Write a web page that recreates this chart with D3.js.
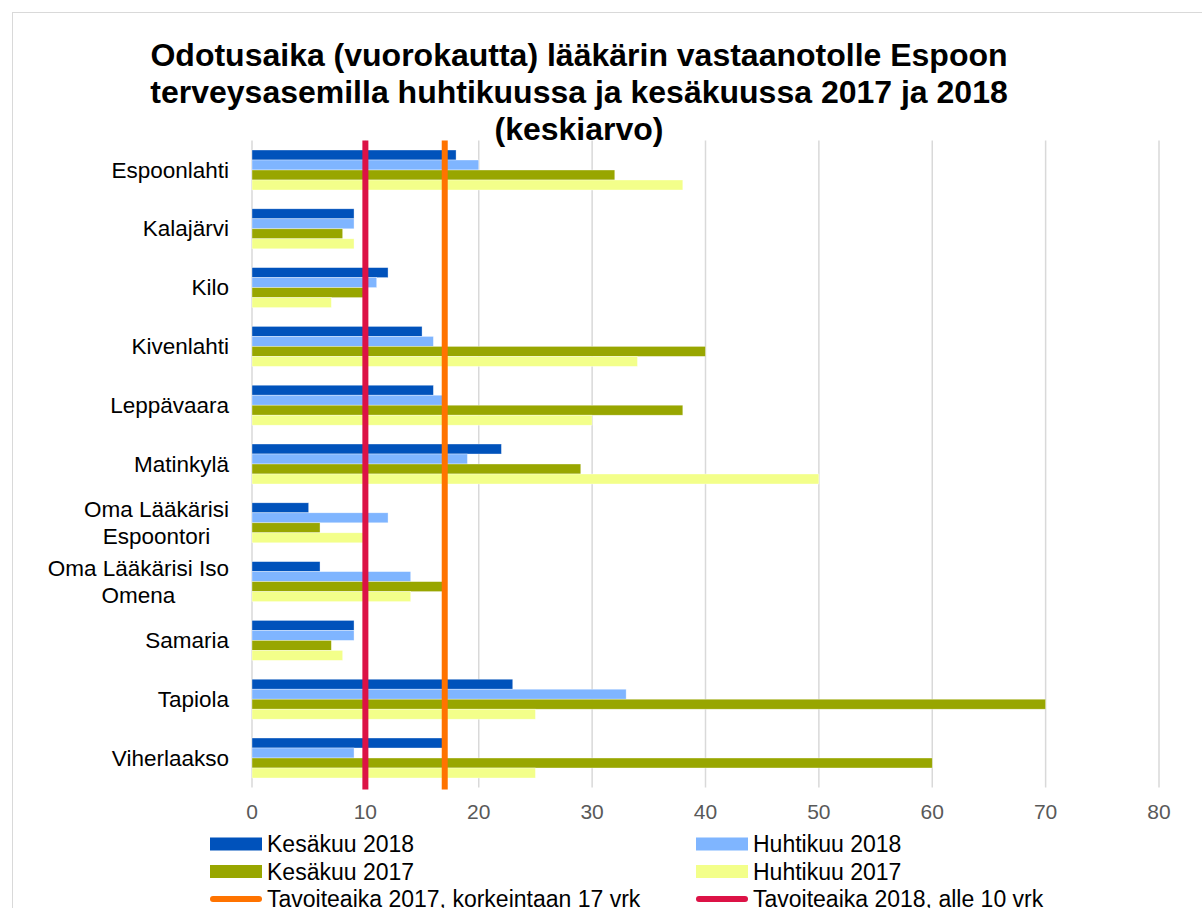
<!DOCTYPE html>
<html>
<head>
<meta charset="utf-8">
<script src="https://cdn.jsdelivr.net/npm/d3@7"></script>
<style>
  body { margin: 0; background: #fff; }
  text { font-family: "Liberation Sans", Arial, sans-serif; }
</style>
</head>
<body>
<div id="chart"></div>
<script>
const width = 1202;
const height = 908;

const categories = ["Espoonlahti", "Kalajärvi", "Kilo", "Kivenlahti", "Leppävaara", "Matinkylä",
    "Oma Lääkärisi\nEspoontori", "Oma Lääkärisi Iso\nOmena", "Samaria", "Tapiola", "Viherlaakso"];
const seriesNames = ["Kesäkuu 2018", "Huhtikuu 2018", "Kesäkuu 2017", "Huhtikuu 2017"];
const kesa2018 = [18, 9, 12, 15, 16, 22, 5, 6, 9, 23, 16.8];
const huhti2018 = [20, 9, 11, 16, 16.8, 19, 12, 14, 9, 33, 9];
const kesa2017 = [32, 8, 10, 40, 38, 29, 6, 16.8, 7, 70, 60];
const huhti2017 = [38, 9, 7, 34, 30, 50, 10, 14, 8, 25, 25];
const xTicks = [0, 10, 20, 30, 40, 50, 60, 70, 80];
const targetNames = ["Tavoiteaika 2017, korkeintaan 17 vrk", "Tavoiteaika 2018, alle 10 vrk"];
const targetValues = [17, 10];

const seriesColors = ["#0052bb", "#7fb5ff", "#98a600", "#f3ff8a"];
const targetColors = ["#ff7300", "#dc1246"];
const seriesValues = [kesa2018, huhti2018, kesa2017, huhti2017];

const svg = d3.select("#chart")
    .append("svg")
    .attr("width", width)
    .attr("height", height);

// outer chart border
svg.append("rect")
    .attr("x", 12.5).attr("y", 12.5)
    .attr("width", 1200).attr("height", 1000)
    .attr("fill", "#fff")
    .attr("stroke", "#d9d9d9");

// title
const titleLines = ["Odotusaika (vuorokautta) lääkärin vastaanotolle Espoon",
    "terveysasemilla huhtikuussa ja kesäkuussa 2017 ja 2018", "(keskiarvo)"];
svg.append("text")
    .attr("font-size", 32)
    .attr("font-weight", "bold")
    .attr("text-anchor", "middle")
    .selectAll("tspan")
    .data(titleLines)
    .enter().append("tspan")
    .attr("x", 579)
    .attr("y", (d, i) => 65.5 + i * 37)
    .text(d => d);

const plotTop = 140.6, plotBottom = 787.4;

const x = d3.scaleLinear().domain([0, 80]).range([252, 1159]);
const y = d3.scaleBand().domain(categories).range([plotTop, plotBottom]).paddingInner(0.32).paddingOuter(0.16);
const ySub = d3.scaleBand().domain(d3.range(seriesNames.length)).range([0, y.bandwidth()]);

// gridlines
svg.append("g")
    .selectAll("line")
    .data(xTicks)
    .enter().append("line")
    .attr("x1", d => x(d)).attr("x2", d => x(d))
    .attr("y1", plotTop).attr("y2", plotBottom)
    .attr("stroke", "#d9d9d9")
    .attr("stroke-width", 1.5);

// x tick labels
svg.append("g")
    .selectAll("text")
    .data(xTicks)
    .enter().append("text")
    .attr("x", d => x(d))
    .attr("y", 819)
    .attr("text-anchor", "middle")
    .attr("font-size", 21)
    .attr("fill", "#595959")
    .text(d => d);

// bars
const groups = svg.append("g")
    .selectAll("g")
    .data(categories)
    .enter().append("g")
    .attr("transform", d => `translate(0,${y(d)})`);

groups.selectAll("rect")
    .data((d, i) => seriesValues.map((s, j) => ({ j, v: s[i] })))
    .enter().append("rect")
    .attr("x", x(0))
    .attr("y", d => ySub(d.j))
    .attr("width", d => x(d.v) - x(0))
    .attr("height", ySub.bandwidth())
    .attr("fill", d => seriesColors[d.j])
    .attr("stroke", "#fff")
    .attr("stroke-opacity", 0.6)
    .attr("stroke-width", 0.6);

// category labels
const labels = svg.append("g")
    .selectAll("text")
    .data(categories)
    .enter().append("text")
    .attr("font-size", 22.5)
    .attr("fill", "#000")
    .attr("text-anchor", "middle");

labels.each(function (d) {
    const lines = d.split("\n");
    const t = d3.select(this);
    const cy = y(d) + y.bandwidth() / 2;
    lines.forEach((l, i) => {
        t.append("tspan")
            .attr("y", cy + 7.5 + (i - (lines.length - 1) / 2) * 27)
            .text(l);
    });
    let w = 0;
    t.selectAll("tspan").each(function () { w = Math.max(w, this.getComputedTextLength()); });
    t.selectAll("tspan").attr("x", 229 - w / 2);
});

// target lines
svg.append("g")
    .selectAll("line")
    .data(targetValues)
    .enter().append("line")
    .attr("x1", d => x(d)).attr("x2", d => x(d))
    .attr("y1", plotTop).attr("y2", plotBottom + 2)
    .attr("stroke", (d, i) => targetColors[i])
    .attr("stroke-width", 6);

// legend
const legendItems = [
    { name: seriesNames[0], color: seriesColors[0], type: "bar" },
    { name: seriesNames[1], color: seriesColors[1], type: "bar" },
    { name: seriesNames[2], color: seriesColors[2], type: "bar" },
    { name: seriesNames[3], color: seriesColors[3], type: "bar" },
    { name: targetNames[0], color: targetColors[0], type: "line" },
    { name: targetNames[1], color: targetColors[1], type: "line" }
];
const legend = svg.append("g")
    .selectAll("g")
    .data(legendItems)
    .enter().append("g")
    .attr("transform", (d, i) => `translate(${i % 2 === 0 ? 210 : 696},${844 + Math.floor(i / 2) * 27.5})`);

legend.filter(d => d.type === "bar").append("rect")
    .attr("x", 0).attr("y", -6.5)
    .attr("width", 52).attr("height", 13)
    .attr("fill", d => d.color);

legend.filter(d => d.type === "line").append("line")
    .attr("x1", 3).attr("x2", 49)
    .attr("y1", 0).attr("y2", 0)
    .attr("stroke", d => d.color)
    .attr("stroke-width", 6)
    .attr("stroke-linecap", "round");

legend.append("text")
    .attr("x", 57)
    .attr("y", 8)
    .attr("font-size", 23)
    .text(d => d.name);
</script>
</body>
</html>
